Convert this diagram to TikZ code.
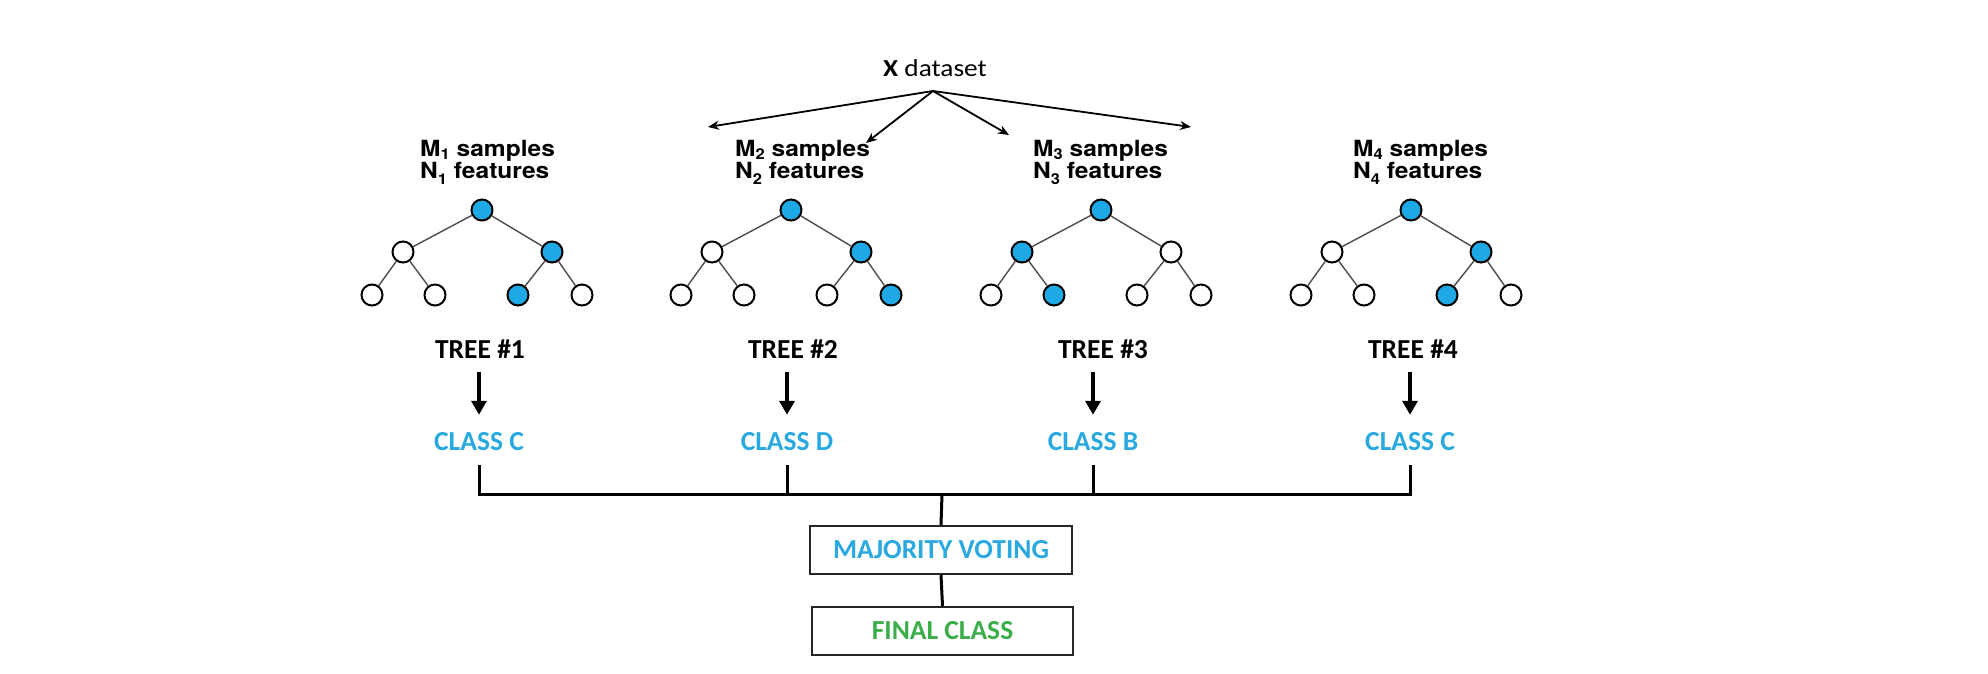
\documentclass[tikz,border=0pt]{standalone}
\usepackage{fontspec}
\usetikzlibrary{arrows.meta,calc}
\newfontfamily\headfont[FakeStretch=1.1]{TeX Gyre Heros}
\newfontfamily\calfont{Carlito}
\newfontfamily\calwide[FakeStretch=1.12]{Carlito}
\definecolor{nodeblue}{RGB}{30,168,230}
\definecolor{classblue}{RGB}{41,169,224}
\definecolor{finalgreen}{RGB}{59,174,74}
% lowered subscript digit
\newcommand\lowsub[2]{\raisebox{#1}{\fontsize{15}{15}\selectfont #2}}
% one decision tree: name, root x, then styles of the seven nodes
\newcommand\rtree[9]{%
  \node[#3] (#1r)  at (#2,210) {};
  \node[#4] (#1a)  at ({#2-79},252) {};
  \node[#5] (#1b)  at ({#2+70},252) {};
  \node[#6] (#1aa) at ({#2-110},295) {};
  \node[#7] (#1ab) at ({#2-47},295) {};
  \node[#8] (#1ba) at ({#2+36},295) {};
  \node[#9] (#1bb) at ({#2+100},295) {};
  \draw[edge] (#1r) -- (#1a);
  \draw[edge] (#1r) -- (#1b);
  \draw[edge] (#1a) -- (#1aa);
  \draw[edge] (#1a) -- (#1ab);
  \draw[edge] (#1b) -- (#1ba);
  \draw[edge] (#1b) -- (#1bb);
}
\begin{document}
\begin{tikzpicture}[x=1pt,y=-1pt,
  open/.style={circle,draw=black,line width=2pt,minimum size=21pt,inner sep=0pt,fill=white},
  hit/.style={open,fill=nodeblue},
  edge/.style={draw=black!70,line width=1.4pt},
  lbl/.style={anchor=base west,inner sep=0pt,font=\headfont\bfseries\fontsize{22.3}{24}\selectfont},
  treelbl/.style={anchor=base,inner sep=0pt,font=\calfont\bfseries\fontsize{27.5}{30}\selectfont},
  cls/.style={treelbl,text=classblue},
  box/.style={draw=black!85,line width=2.4pt,minimum width=262pt,minimum height=48pt,inner sep=0pt,
    font=\calfont\bfseries\fontsize{27.5}{30}\selectfont},
  split/.style={line width=1.8pt,-{Stealth[length=11pt,width=9pt]}},
  down/.style={line width=4pt,-{Triangle[length=14pt,width=15pt]}},
  linkline/.style={line width=3pt}]
\fill[white] (0,0) rectangle (1988,674);
\useasboundingbox (0,0) rectangle (1988,674);

% dataset and its four bootstrap samples
\node[anchor=base west,inner sep=0pt,font=\calwide\fontsize{24.4}{26}\selectfont] (xds) at (883,77) {\textbf{X} dataset};
\coordinate (src) at (933,91);
\coordinate (e1) at (708,127);
\coordinate (e2) at (866,143);
\coordinate (e3) at (1009,135);
\coordinate (e4) at (1191,127);
\draw[split] (src) -- (e1);
\draw[split] (src) -- (e2);
\draw[split] (src) -- (e3);
\draw[split] (src) -- (e4);

\node[lbl] (m1) at (420,156) {M\lowsub{-3pt}{1} samples};
\node[lbl] (n1) at (420,178) {N\lowsub{-6pt}{1} features};
\node[lbl] (m2) at (735,156) {M\lowsub{-3pt}{2} samples};
\node[lbl] (n2) at (735,178) {N\lowsub{-6pt}{2} features};
\node[lbl] (m3) at (1033,156) {M\lowsub{-3pt}{3} samples};
\node[lbl] (n3) at (1033,178) {N\lowsub{-6pt}{3} features};
\node[lbl] (m4) at (1353,156) {M\lowsub{-3pt}{4} samples};
\node[lbl] (n4) at (1353,178) {N\lowsub{-6pt}{4} features};

% the four trees
\rtree{ta}{482}{hit}{open}{hit}{open}{open}{hit}{open}
\rtree{tb}{791}{hit}{open}{hit}{open}{open}{open}{hit}
\rtree{tc}{1101}{hit}{hit}{open}{open}{hit}{open}{open}
\rtree{td}{1411}{hit}{open}{hit}{open}{open}{hit}{open}

% tree names and their votes
\node[treelbl] (tl1) at (480,358) {TREE \#1};
\node[treelbl] (tl2) at (793,358) {TREE \#2};
\node[treelbl] (tl3) at (1103,358) {TREE \#3};
\node[treelbl] (tl4) at (1413,358) {TREE \#4};
\node[cls] (cl1) at (479,450) {CLASS C};
\node[cls] (cl2) at (787,450) {CLASS D};
\node[cls] (cl3) at (1093,450) {CLASS B};
\node[cls] (cl4) at (1410,450) {CLASS C};
\foreach \i in {1,...,4}{
  \draw[down] ($(cl\i.north |- tl\i.base)+(0,14)$) -- ($(cl\i.north)+(0,-17)$);
}

% voting
\coordinate (bar) at (942,494);
\node[box,text=classblue] (mv) at (941,550) {MAJORITY VOTING};
\node[box,text=finalgreen,minimum width=261pt] (fc) at (942.5,631) {FINAL CLASS};
\foreach \i in {1,...,4}{
  \draw[linkline] ($(cl\i.base)+(0,15)$) -- (cl\i.base |- bar);
}
\draw[linkline,line cap=rect] (cl1.base |- bar) -- (cl4.base |- bar);
\draw[linkline] (bar) -- (mv.north);
\draw[linkline] (mv.south) -- (fc.north);
\end{tikzpicture}
\end{document}
